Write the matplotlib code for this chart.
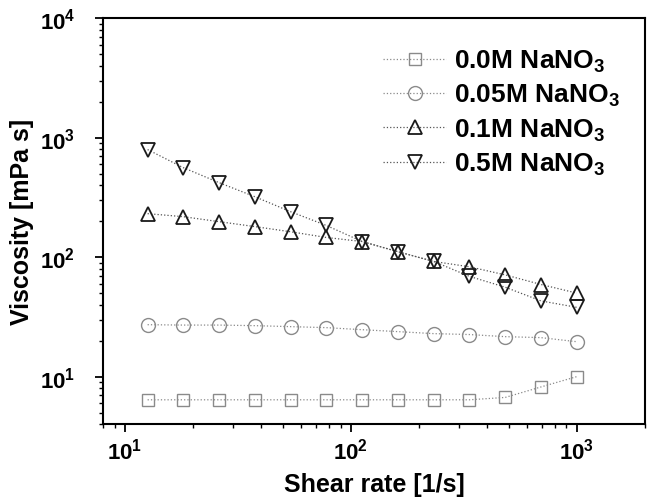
import matplotlib
matplotlib.use('Agg')
import matplotlib.pyplot as plt

# shear rate sweep and measured viscosities for each salt concentration
shear_rate = [12.6, 18.1, 26.1, 37.6, 54.1, 77.9, 112.2, 161.6, 232.6, 335.0, 482.5, 694.8, 1000.0]
visc_00 = [6.4, 6.4, 6.4, 6.4, 6.4, 6.4, 6.4, 6.4, 6.4, 6.4, 6.7, 8.2, 10.0]
visc_005 = [27.2, 27.0, 27.0, 26.7, 26.2, 25.7, 24.7, 23.8, 22.9, 22.5, 21.6, 21.2, 19.6]
visc_01 = [231, 218, 198, 180, 163, 146, 135, 111, 92, 83, 71, 59, 50]
visc_05 = [794, 561, 420, 320, 240, 184, 135, 111, 92, 69, 56, 43, 38]

labels = [r'0.0M NaNO$_3$', r'0.05M NaNO$_3$', r'0.1M NaNO$_3$', r'0.5M NaNO$_3$']

plt.rcParams['font.family'] = 'Liberation Sans'
plt.rcParams['font.weight'] = 'bold'
plt.rcParams['mathtext.fontset'] = 'custom'
plt.rcParams['mathtext.rm'] = 'Liberation Sans:bold'
plt.rcParams['mathtext.bf'] = 'Liberation Sans:bold'
plt.rcParams['mathtext.default'] = 'bf'

fig = plt.figure(figsize=(6.48, 5.02), dpi=100)
ax = fig.add_axes([0.159, 0.153, 0.836, 0.809])

light = '#8a8a8a'
dark = '#1a1a1a'
ax.plot(shear_rate, visc_00, ls=':', lw=0.9, color=light, marker='s', ms=9,
        mfc='none', mec=light, mew=1.0, label=labels[0])
ax.plot(shear_rate, visc_005, ls=':', lw=0.9, color=light, marker='o', ms=10,
        mfc='none', mec=light, mew=1.0, label=labels[1])
ax.plot(shear_rate, visc_01, ls=':', lw=0.9, color='#555555', marker='^', ms=10,
        mfc='none', mec=dark, mew=1.3, label=labels[2])
ax.plot(shear_rate, visc_05, ls=':', lw=0.9, color='#555555', marker='v', ms=10,
        mfc='none', mec=dark, mew=1.3, label=labels[3])

ax.set_xscale('log')
ax.set_yscale('log')
ax.set_xlim(8, 2000)
ax.set_ylim(4, 1e4)

ax.set_xlabel('Shear rate [1/s]', fontsize=18, fontweight='bold', labelpad=6)
ax.set_ylabel('Viscosity [mPa s]', fontsize=18, fontweight='bold', labelpad=4)

ax.tick_params(which='both', direction='out', top=False, right=False, labelsize=16)
ax.tick_params(which='major', length=6, width=1.3)
ax.tick_params(which='minor', length=3, width=1.0)
ax.tick_params(axis='y', which='major', pad=14)
for sp in ax.spines.values():
    sp.set_linewidth(1.5)

ax.legend(loc='upper right', bbox_to_anchor=(0.998, 0.985), frameon=False,
          fontsize=19, handlelength=2.4, handletextpad=0.3, labelspacing=0.31)

fig.savefig('out.png', dpi=100)
